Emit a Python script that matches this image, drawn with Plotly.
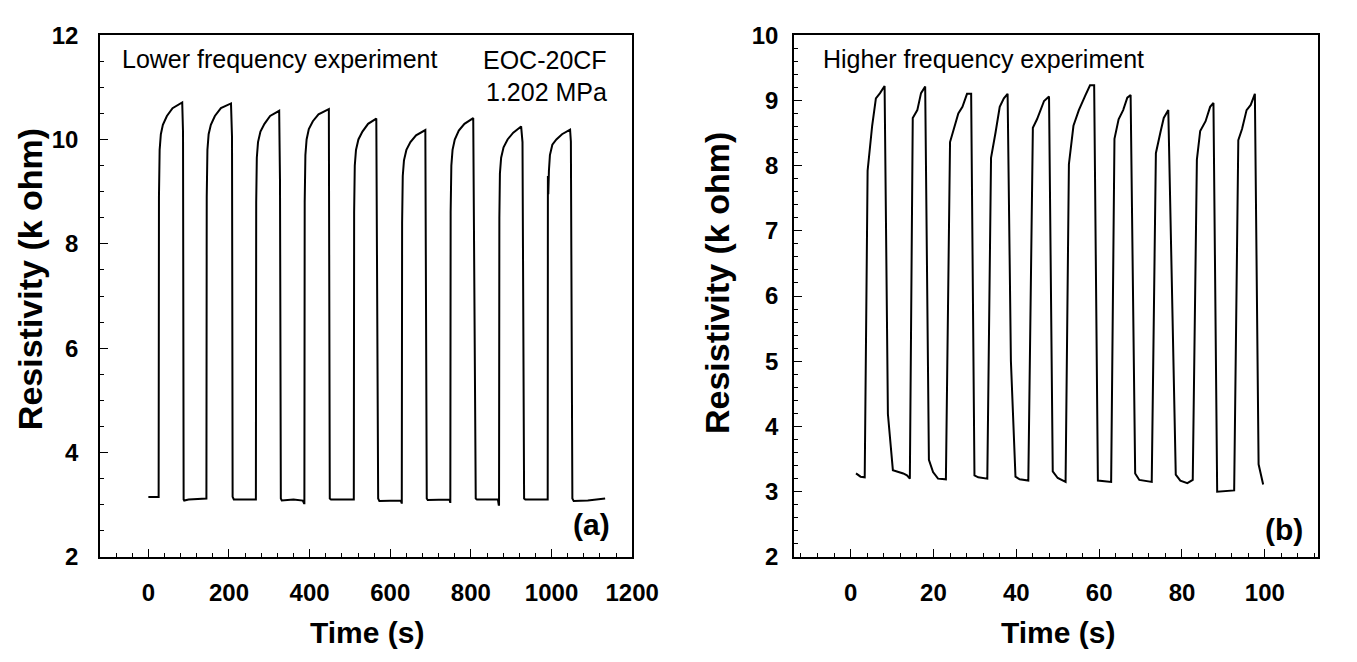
import plotly.graph_objects as go

# ---------------- Panel (a): lower frequency experiment ----------------
time_a = [
    0, 25.5, 26.3, 28, 31, 36, 46, 60, 84, 86, 87.5, 89, 100, 140,
    144, 144.8, 146.5, 149.5, 155, 165, 180, 205, 207.5, 209, 212, 225, 265,
    266.7, 267.5, 269, 272, 278, 288, 302, 324.5, 325.5, 326.5, 328.6, 331, 360, 383, 386,
    387, 387.8, 389.5, 392.5, 398, 408, 422, 447.7, 450, 453, 507,
    509.6, 510.4, 512, 515, 521, 531, 545, 565.4, 570, 573, 626, 628,
    628.6, 629.4, 631, 634, 640, 650, 664, 687, 690.5, 693, 747, 748.5,
    749, 749.8, 751.5, 754.5, 760, 770, 784, 805.8, 812, 815, 867, 869,
    869.8, 870.6, 872, 875, 881, 891, 905, 924.6, 928, 932, 935, 989,
    990.5, 991, 992, 993.5, 996, 1002, 1012, 1026, 1046, 1048, 1051.7, 1055, 1090, 1133,
]
resist_a = [
    3.15, 3.15, 8.9, 9.8, 10.1, 10.28, 10.45, 10.6, 10.71, 10.14, 3.1, 3.08, 3.1, 3.12,
    3.12, 8.9, 9.8, 10.1, 10.28, 10.45, 10.6, 10.69, 10.05, 3.15, 3.1, 3.1, 3.1,
    3.1, 8.8, 9.65, 9.95, 10.15, 10.3, 10.45, 10.55, 9.95, 9.22, 3.12, 3.08, 3.1, 3.08, 3.03,
    3.03, 8.8, 9.7, 10.0, 10.2, 10.35, 10.48, 10.58, 3.12, 3.1, 3.1,
    3.1, 8.6, 9.5, 9.8, 10.0, 10.15, 10.3, 10.40, 3.12, 3.07, 3.08, 3.04,
    3.04, 8.4, 9.3, 9.6, 9.8, 9.95, 10.08, 10.18, 3.12, 3.09, 3.1, 3.05,
    3.05, 8.6, 9.5, 9.8, 10.0, 10.17, 10.3, 10.41, 3.12, 3.1, 3.1, 3.0,
    3.0, 8.5, 9.35, 9.65, 9.85, 10.0, 10.13, 10.25, 9.95, 3.12, 3.1, 3.1,
    3.1, 9.3, 8.95, 9.4, 9.7, 9.9, 10.0, 10.1, 10.19, 9.96, 3.12, 3.07, 3.08, 3.12,
]

# ---------------- Panel (b): higher frequency experiment ----------------
time_b = [
    1.3, 2.4, 3.4, 4.1, 5.2, 6.1, 7.1, 8.2, 9.0, 10.2, 12.7, 13.6, 14.3,
    15.0, 16.1, 17.0, 18.0, 18.9, 19.9, 21.1, 23.0,
    24.0, 26.0, 27.0, 28.1, 29.1, 29.9, 30.8, 33.0,
    33.9, 35.0, 36.0, 37.0, 37.9, 38.7, 39.8, 40.8, 42.9,
    44.0, 45.0, 46.7, 47.4, 47.9, 48.8, 50.0, 51.9,
    52.7, 53.8, 55.1, 56.7, 57.8, 58.8, 59.7, 62.9,
    63.7, 64.7, 65.8, 66.8, 67.6, 68.7, 69.7, 72.7,
    73.7, 74.8, 75.6, 76.7, 78.5, 79.6, 81.3, 82.6,
    83.6, 84.4, 85.7, 86.8, 87.6, 88.5, 92.6,
    93.6, 94.5, 95.6, 96.6, 97.6, 98.5, 99.6,
]
resist_b = [
    3.28, 3.23, 3.22, 7.92, 8.61, 9.03, 9.11, 9.22, 4.19, 3.33, 3.28, 3.25, 3.20,
    8.73, 8.85, 9.11, 9.21, 3.49, 3.30, 3.20, 3.19,
    8.36, 8.80, 8.90, 9.10, 9.10, 3.25, 3.22, 3.20,
    8.12, 8.51, 8.90, 9.03, 9.10, 5.0, 3.23, 3.19, 3.17,
    8.58, 8.71, 8.99, 9.04, 9.06, 3.31, 3.21, 3.15,
    8.02, 8.61, 8.85, 9.08, 9.23, 9.23, 3.17, 3.15,
    8.41, 8.71, 8.85, 9.04, 9.08, 3.28, 3.18, 3.15,
    8.19, 8.51, 8.73, 8.85, 3.26, 3.17, 3.13, 3.18,
    8.09, 8.53, 8.68, 8.90, 8.96, 3.00, 3.02,
    8.39, 8.56, 8.85, 8.93, 9.10, 3.42, 3.11,
]

x_ticks_a = [0, 200, 400, 600, 800, 1000, 1200]
y_ticks_a = [2, 4, 6, 8, 10, 12]
x_ticks_b = [0, 20, 40, 60, 80, 100]
y_ticks_b = [2, 3, 4, 5, 6, 7, 8, 9, 10]

W, H = 1357, 662
FONT = "Liberation Sans, Arial, sans-serif"

fig = go.Figure()
fig.add_trace(go.Scatter(x=time_a, y=resist_a, mode="lines",
                         line=dict(color="black", width=2), xaxis="x", yaxis="y",
                         showlegend=False, hoverinfo="skip"))
fig.add_trace(go.Scatter(x=time_b, y=resist_b, mode="lines",
                         line=dict(color="black", width=2), xaxis="x2", yaxis="y2",
                         showlegend=False, hoverinfo="skip"))

def px_x(p):
    return p / W

def px_y(p):
    return 1 - p / H

tickfont = dict(family=FONT, size=24, color="black", weight="bold")
xtitlefont = dict(family=FONT, size=30, color="black", weight="bold")
ytitlefont = dict(family=FONT, size=34, color="black", weight="bold")
labelfont = dict(family=FONT, size=30, color="black", weight="bold")

common = dict(showline=True, mirror=True, linecolor="black", linewidth=1.5,
              ticks="inside", ticklen=8, tickwidth=1.2, tickcolor="black",
              showgrid=False, zeroline=False, tickfont=tickfont)

fig.update_layout(
    width=W, height=H,
    margin=dict(l=0, r=0, t=0, b=0),
    paper_bgcolor="white", plot_bgcolor="white",
    xaxis=dict(domain=[px_x(102), px_x(645)], range=[-120, 1200],
               tickvals=x_ticks_a, ticklabelstandoff=14,
               minor=dict(ticks="inside", dtick=40, tick0=0, ticklen=4, tickcolor="black"),
               anchor="y", **common),
    yaxis=dict(domain=[px_y(566), px_y(22)], range=[2, 12],
               tickvals=y_ticks_a, ticklabelstandoff=15,
               minor=dict(ticks="inside", dtick=0.5, tick0=0, ticklen=4, tickcolor="black"),
               anchor="x", **common),
    xaxis2=dict(domain=[px_x(810), px_x(1345)], range=[-13.7, 112.9],
                tickvals=x_ticks_b, ticklabelstandoff=14,
                minor=dict(ticks="inside", dtick=4, tick0=0, ticklen=4, tickcolor="black"),
                anchor="y2", **common),
    yaxis2=dict(domain=[px_y(566), px_y(22)], range=[2, 10],
                tickvals=y_ticks_b, ticklabelstandoff=9,
                minor=dict(ticks="inside", dtick=0.2, tick0=0, ticklen=4, tickcolor="black"),
                anchor="x2", **common),
)

# axis titles
fig.add_annotation(text="Time (s)", xref="paper", yref="paper",
                   x=px_x(374), y=px_y(645), xanchor="center", yanchor="middle",
                   showarrow=False, font=xtitlefont)
fig.add_annotation(text="Time (s)", xref="paper", yref="paper",
                   x=px_x(1079), y=px_y(645), xanchor="center", yanchor="middle",
                   showarrow=False, font=xtitlefont)
fig.add_annotation(text="Resistivity (k ohm)", xref="paper", yref="paper",
                   x=px_x(30), y=px_y(276), xanchor="center", yanchor="middle",
                   textangle=-90, showarrow=False, font=ytitlefont)
fig.add_annotation(text="Resistivity (k ohm)", xref="paper", yref="paper",
                   x=px_x(731), y=px_y(280), xanchor="center", yanchor="middle",
                   textangle=-90, showarrow=False, font=ytitlefont)

annfont = dict(family=FONT, size=25, color="black")
fig.add_annotation(text="Lower frequency experiment", xref="paper", yref="paper",
                   x=px_x(122), y=px_y(47), xanchor="left", yanchor="middle",
                   showarrow=False, font=annfont)
fig.add_annotation(text="EOC-20CF", xref="paper", yref="paper",
                   x=px_x(621), y=px_y(48), xanchor="right", yanchor="middle",
                   showarrow=False, font=annfont)
fig.add_annotation(text="1.202 MPa", xref="paper", yref="paper",
                   x=px_x(621), y=px_y(81), xanchor="right", yanchor="middle",
                   showarrow=False, font=annfont)
fig.add_annotation(text="(a)", xref="paper", yref="paper",
                   x=px_x(624), y=px_y(532), xanchor="right", yanchor="middle",
                   showarrow=False, font=labelfont)
fig.add_annotation(text="Higher frequency experiment", xref="paper", yref="paper",
                   x=px_x(838), y=px_y(47), xanchor="left", yanchor="middle",
                   showarrow=False, font=annfont)
fig.add_annotation(text="(b)", xref="paper", yref="paper",
                   x=px_x(1332), y=px_y(537), xanchor="right", yanchor="middle",
                   showarrow=False, font=labelfont)

fig.write_html("out.html", config={"displayModeBar": False},
               post_script="document.body.style.margin='0';")
